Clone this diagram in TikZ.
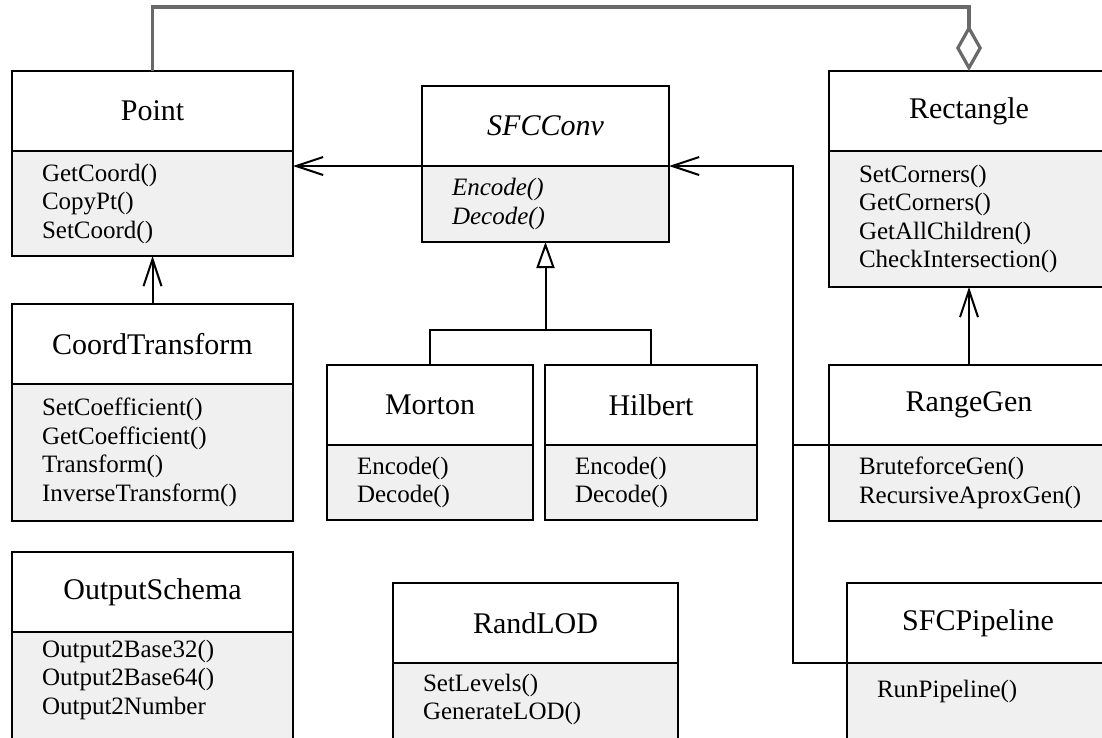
\documentclass[tikz,border=0pt]{standalone}
\usepackage{fontspec}
\setmainfont{Liberation Serif}
\usetikzlibrary{arrows.meta,positioning}
\definecolor{aggrgray}{RGB}{105,105,105}
\definecolor{opsgray}{RGB}{240,240,240}
\tikzset{classname/.style={rectangle, draw, line width=2pt, minimum height=80pt, inner sep=0pt, outer sep=0pt, font=\fontsize{30}{36}\selectfont}}
\tikzset{classops/.style={rectangle, draw, line width=2pt, fill=opsgray, align=left, inner xsep=30pt, inner ysep=12pt, outer sep=0pt, font=\fontsize{25}{28.5}\selectfont}}
\tikzset{assoc/.style={-{Straight Barb[length=27pt,width=18pt]}, line width=2pt}}
\tikzset{inherit/.style={-{Triangle[open,length=26pt,width=18pt]}, line width=2pt}}
\tikzset{aggreg/.style={-{Diamond[open,length=46pt,width=26pt]}, color=aggrgray, line width=3.2pt}}
\tikzset{link/.style={-, line width=2pt}}

\begin{document}
\begin{tikzpicture}[x=1pt, y=-1pt]
    \useasboundingbox (0,0) rectangle (1102,737);
    \clip (0,0) rectangle (1102,737);

    \node[classname, minimum width=281pt] (point) at (152.5,111) {Point};
    \node[classops, text width=221pt, minimum height=105pt, below=0pt of point] (pointops) {
        GetCoord()\\CopyPt()\\SetCoord()};

    \node[classname, minimum width=247pt] (sfc) at (545.5,126) {\itshape SFCConv};
    \node[classops, text width=187pt, minimum height=76pt, below=0pt of sfc] (sfcops) {
        \itshape Encode()\\\itshape Decode()};

    \node[classname, minimum width=280pt] (rect) at (969,111) {Rectangle};
    \node[classops, text width=220pt, minimum height=136pt, below=0pt of rect] (rectops) {
        SetCorners()\\GetCorners()\\GetAllChildren()\\CheckIntersection()};

    \node[classname, minimum width=281pt] (coord) at (152.5,344) {CoordTransform};
    \node[classops, text width=221pt, minimum height=137pt, below=0pt of coord] (coordops) {
        SetCoefficient()\\GetCoefficient()\\Transform()\\InverseTransform()};

    \node[classname, minimum width=206pt] (morton) at (430,405) {Morton};
    \node[classops, text width=146pt, minimum height=75pt, below=0pt of morton] (mortonops) {
        Encode()\\Decode()};

    \node[classname, minimum width=212pt] (hilbert) at (651,405) {Hilbert};
    \node[classops, text width=152pt, minimum height=75pt, below=0pt of hilbert] (hilbertops) {
        Encode()\\Decode()};

    \node[classname, minimum width=280pt] (range) at (969,405) {RangeGen};
    \node[classops, text width=220pt, minimum height=76pt, below=0pt of range] (rangeops) {
        BruteforceGen()\\RecursiveAproxGen()};

    \node[classname, minimum width=281pt] (output) at (152.5,592) {OutputSchema};
    \node[classops, text width=221pt, inner ysep=8pt, below=0pt of output] (outputops) {
        Output2Base32()\\Output2Base64()\\Output2Number\\~\\~};

    \node[classname, minimum width=285pt] (lod) at (535.5,623) {RandLOD};
    \node[classops, text width=225pt, inner ysep=11pt, below=0pt of lod] (lodops) {
        SetLevels()\\GenerateLOD()\\~\\~};

    \node[classname, minimum width=262pt] (pipe) at (978,623) {SFCPipeline};
    \node[classops, text width=202pt, inner ysep=17pt, below=0pt of pipe] (pipeops) {
        RunPipeline()\\~\\~\\~};

    \coordinate (topline) at (0,7);
    \coordinate (bus) at (793,0);
    \coordinate (fork) at (545.5,330);

    \draw[aggreg] (point.north) -- (point.north |- topline) -| (rect.north);
    \draw[assoc] (sfc.south west) -- (sfc.south west -| pointops.east);
    \draw[assoc] (coord.north) -- (pointops.south);
    \draw[assoc] (range.north) -- (rectops.south);

    \draw[link] (morton.north) |- (fork) -| (hilbert.north);
    \draw[inherit] (fork) -- (sfcops.south);

    \draw[assoc] (pipe.south west) -- (pipe.south west -| bus) -- (bus |- sfc.south east) -- (sfc.south east);
    \draw[link] (range.south west) -- (range.south west -| bus);

\end{tikzpicture}
\end{document}
